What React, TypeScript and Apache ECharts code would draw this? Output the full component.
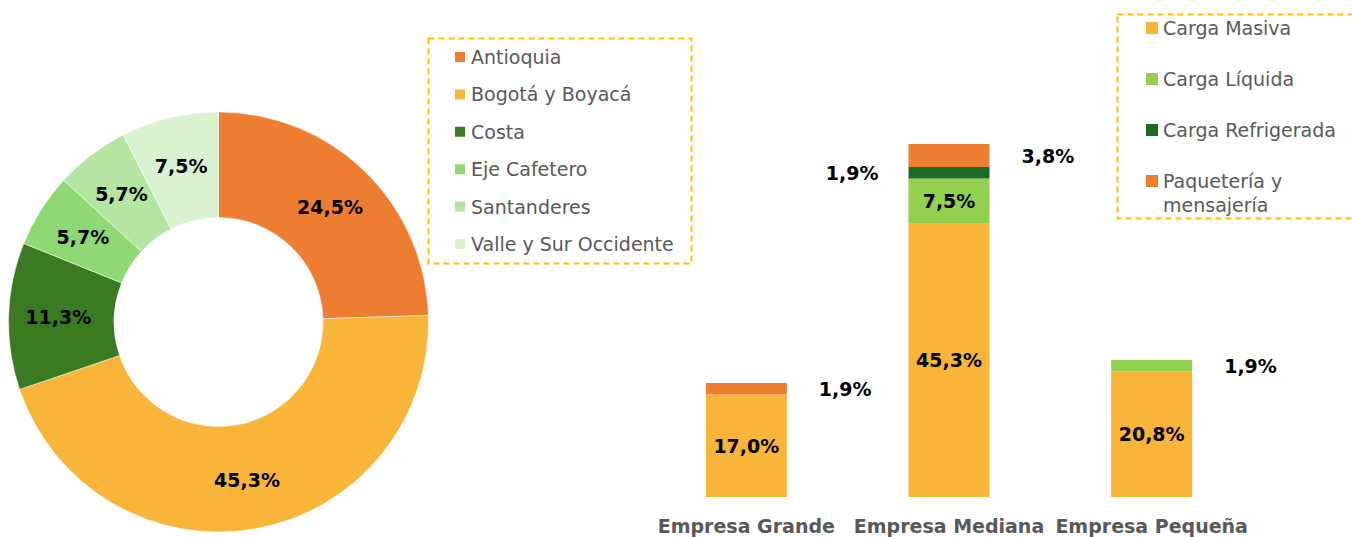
import { useEffect, useRef } from 'react';
import * as echarts from 'echarts';

const regions = ['Antioquia', 'Bogotá y Boyacá', 'Costa', 'Eje Cafetero', 'Santanderes', 'Valle y Sur Occidente'];
const regionShares = [24.5, 45.3, 11.3, 5.7, 5.7, 7.5];
const regionColors = ['#ED7D31', '#F8B53A', '#3A7B22', '#8ED973', '#B4E5A2', '#D9F2D0'];

const companySizes = ['Empresa Grande', 'Empresa Mediana', 'Empresa Pequeña'];
const cargoTypes = ['Carga Masiva', 'Carga Líquida', 'Carga Refrigerada', 'Paquetería y mensajería'];
const cargaMasiva = [17.0, 45.3, 20.8];
const cargaLiquida = [0, 7.5, 1.9];
const cargaRefrigerada = [0, 1.9, 0];
const paqueteria = [1.9, 3.8, 0];
const cargoColors = ['#F8B53A', '#92D050', '#1B6B25', '#ED7D31'];

const FONT = 'DejaVu Sans';
const fmt = (v: number) => v.toFixed(1).replace('.', ',') + '%';

export default function App() {
  const ref = useRef<HTMLDivElement>(null);

  useEffect(() => {
    document.body.style.margin = '0';
    const chart = echarts.init(ref.current!, null, { renderer: 'svg' });

    const cargoValues = [cargaMasiva, cargaLiquida, cargaRefrigerada, paqueteria];
    const labelStyle = { fontFamily: FONT, fontSize: 19, fontWeight: 'bold', color: '#000' };

    const barSeries = cargoTypes.map((name, si) => ({
      name,
      type: 'bar',
      stack: 'total',
      barWidth: 81,
      itemStyle: { color: cargoColors[si] },
      data: cargoValues[si].map((v) => {
        let label: any;
        if (v === 0) label = { show: false };
        else if (v >= 5) label = { show: true, position: 'inside', ...labelStyle, formatter: () => fmt(v) };
        else if (si === 2) label = { show: true, position: 'left', distance: 30, ...labelStyle, formatter: () => fmt(v) };
        else label = { show: true, position: 'right', distance: 32, ...labelStyle, formatter: () => fmt(v) };
        return { value: v, label };
      }),
    }));

    const legendText = { fontFamily: FONT, fontSize: 19, color: '#595959' };

    chart.setOption({
      animation: false,
      textStyle: { fontFamily: FONT },
      grid: { left: 645, width: 608, top: 135, bottom: 40 },
      xAxis: {
        type: 'category',
        data: companySizes,
        axisLine: { show: false },
        axisTick: { show: false },
        axisLabel: { interval: 0, margin: 19, fontFamily: FONT, fontSize: 19, fontWeight: 'bold', color: '#595959' },
      },
      yAxis: { type: 'value', min: 0, max: 60, show: false },
      legend: [
        {
          data: regions,
          orient: 'vertical',
          left: 453,
          top: 47,
          padding: 0,
          itemWidth: 12,
          itemHeight: 12,
          itemGap: 17.4,
          icon: 'rect',
          selectedMode: false,
          textStyle: { ...legendText, lineHeight: 20 },
        },
        {
          data: cargoTypes.slice(0, 3),
          orient: 'vertical',
          left: 1146,
          top: 16,
          padding: 0,
          itemWidth: 12,
          itemHeight: 12,
          itemGap: 27,
          icon: 'rect',
          selectedMode: false,
          textStyle: { ...legendText, lineHeight: 24 },
        },
        {
          data: [cargoTypes[3]],
          formatter: () => '\nPaquetería y\nmensajería',
          orient: 'vertical',
          left: 1146,
          top: 145,
          padding: 0,
          itemWidth: 12,
          itemHeight: 12,
          icon: 'rect',
          selectedMode: false,
          textStyle: { ...legendText, lineHeight: 24 },
        },
      ],
      graphic: [
        {
          type: 'rect',
          shape: { x: 428.5, y: 38.5, width: 263, height: 225 },
          style: { fill: 'none', stroke: '#FFC000', lineWidth: 2, lineDash: [6, 4] },
        },
        {
          type: 'rect',
          shape: { x: 1117.5, y: 14.5, width: 245, height: 204 },
          style: { fill: 'none', stroke: '#FFC000', lineWidth: 2, lineDash: [6, 4] },
        },
      ],
      series: [
        {
          name: 'Regiones',
          type: 'pie',
          center: [218.5, 322],
          radius: [104.5, 210],
          startAngle: 90,
          clockwise: true,
          avoidLabelOverlap: false,
          label: {
            show: true,
            position: 'inside',
            ...labelStyle,
            formatter: (p: any) => fmt(p.value),
          },
          labelLine: { show: false },
          itemStyle: { borderColor: '#fff', borderWidth: 0.5 },
          data: regions.map((name, i) => ({ name, value: regionShares[i], itemStyle: { color: regionColors[i] } })),
        },
        ...barSeries,
      ],
    } as any);

    return () => chart.dispose();
  }, []);

  return <div ref={ref} style={{ width: 1352, height: 537 }} />;
}
